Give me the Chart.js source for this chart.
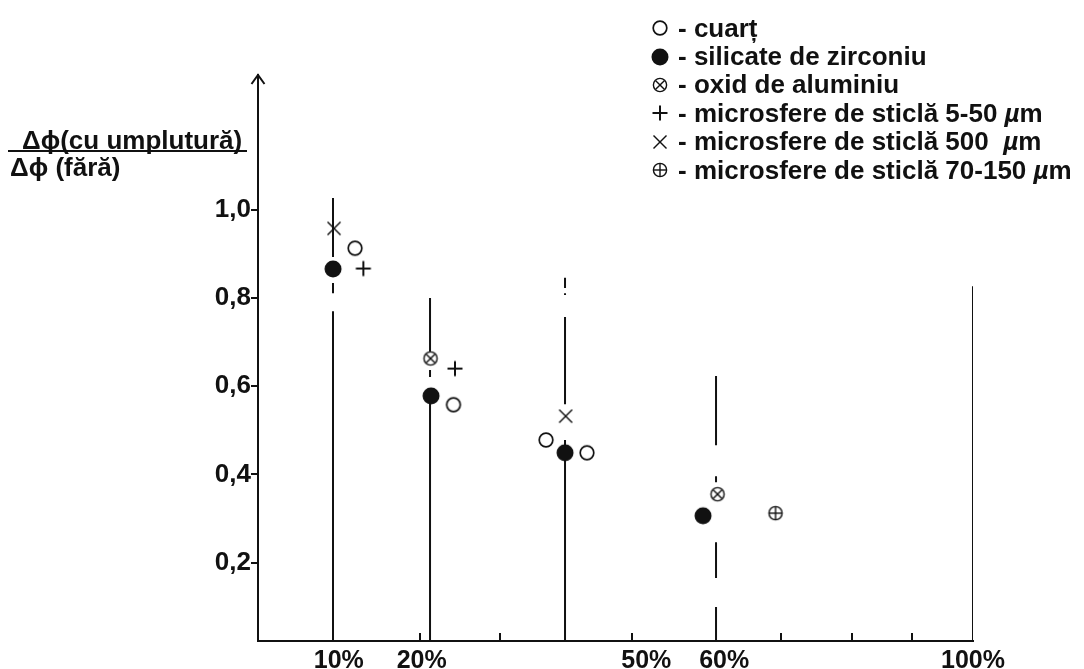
<!DOCTYPE html>
<html>
<head>
<meta charset="utf-8">
<script src="https://cdn.jsdelivr.net/npm/chart.js@4.4.1/dist/chart.umd.min.js"></script>
<style>
  body { margin: 0; background: #fff; }
  #wrap { position: relative; width: 1084px; height: 669px; overflow: hidden;
          font-family: "Liberation Sans", Arial, sans-serif; font-weight: bold; color: #111; }
  #wrap canvas#chart { position: absolute; left: 0; top: 0; }
  #legend { position: absolute; left: 650px; top: 14px; font-size: 26px; }
  .row { display: flex; align-items: center; height: 28.4px; white-space: nowrap; }
  .row img { width: 20px; height: 20px; margin-right: 8px; }
  .ytxt { position: absolute; font-size: 26px; line-height: 30px; white-space: nowrap; }
  #ybar { position: absolute; left: 8px; top: 150px; width: 239px; height: 2px; background: #111; }
</style>
</head>
<body>
<div id="wrap">
  <canvas id="chart" width="1084" height="669"></canvas>
  <div class="ytxt" style="left:22px; top:125px;">Δϕ(cu umplutură)</div>
  <div id="ybar"></div>
  <div class="ytxt" style="left:10px; top:152px;">Δϕ (fără)</div>
  <div id="legend"></div>
</div>
<script>
// series names, in legend order
const seriesNames = [
  "cuarț",
  "silicate de zirconiu",
  "oxid de aluminiu",
  "microsfere de sticlă 5-50 µm",
  "microsfere de sticlă 500  µm",
  "microsfere de sticlă 70-150 µm"
];
const seriesMarks = ["open", "filled", "otimes", "plus", "times", "oplus"];

// points (x = position along the drawn axis, 0..100)
const cuartX = [13.57, 27.34, 40.28, 46.01];
const cuartY = [0.913, 0.558, 0.478, 0.449];
const zirconX = [10.49, 24.20, 42.94, 62.24];
const zirconY = [0.866, 0.578, 0.449, 0.306];
const aluminaX = [24.13, 64.27];
const aluminaY = [0.663, 0.355];
const micro550X = [14.73, 27.55];
const micro550Y = [0.867, 0.640];
const micro500X = [10.63, 43.03];
const micro500Y = [0.958, 0.532];
const micro70X = [72.38];
const micro70Y = [0.312];

// vertical guide lines, drawn in pieces (y from / y to)
const yAxisMin = 0.022;
const yAxisMax = 1.306;
const guideX = [10.49, 24.06, 42.94, 64.06, 100];
const guidePieces = [
  [[1.027, 0.893], [0.834, 0.811], [0.770, yAxisMin]],
  [[0.800, 0.678], [0.637, 0.621], [0.578, yAxisMin]],
  [[0.846, 0.823], [0.811, 0.807], [0.757, 0.559], [0.478, yAxisMin]],
  [[0.623, 0.466], [0.396, 0.382], [0.246, 0.165], [0.099, yAxisMin]],
  [[0.827, yAxisMin]]
];

// axis ticks
const yTicks = [0.2, 0.4, 0.6, 0.8, 1.0];
const xLabelPos = [11.3, 22.9, 54.3, 65.2, 100];
const xLabels = ["10%", "20%", "50%", "60%", "100%"];
const xMinorTicks = [22.66, 33.85, 52.31, 73.15, 83.08, 91.47];

const ink = "#111";

function makeMarker(kind) {
  const c = document.createElement("canvas");
  c.width = 20; c.height = 20;
  const g = c.getContext("2d");
  const m = 10;
  g.strokeStyle = ink; g.fillStyle = ink;
  const ring = (r, lw) => {
    g.beginPath(); g.arc(m, m, r, 0, Math.PI * 2);
    g.fillStyle = "#fff"; g.fill();
    g.lineWidth = lw; g.stroke();
  };
  const seg = (x1, y1, x2, y2, lw) => {
    g.beginPath(); g.moveTo(m + x1, m + y1); g.lineTo(m + x2, m + y2);
    g.lineWidth = lw; g.stroke();
  };
  if (kind === "open") ring(6.8, 1.7);
  if (kind === "filled") { g.beginPath(); g.arc(m, m, 8.5, 0, Math.PI * 2); g.fill(); }
  if (kind === "otimes") { ring(6.6, 1.4); seg(-4.3, -4.3, 4.3, 4.3, 1.4); seg(-4.3, 4.3, 4.3, -4.3, 1.4); }
  if (kind === "plus") { seg(-7.5, 0, 7.5, 0, 2); seg(0, -7.5, 0, 7.5, 2); }
  if (kind === "times") { seg(-6.5, -6.5, 6.5, 6.5, 1.4); seg(-6.5, 6.5, 6.5, -6.5, 1.4); }
  if (kind === "oplus") { ring(6.6, 1.4); seg(-6.6, 0, 6.6, 0, 1.4); seg(0, -6.6, 0, 6.6, 1.4); }
  return c;
}

const markers = seriesMarks.map(makeMarker);

// legend as html
const legend = document.getElementById("legend");
seriesNames.forEach((name, i) => {
  const row = document.createElement("div");
  row.className = "row";
  const img = document.createElement("img");
  img.src = markers[i].toDataURL();
  row.appendChild(img);
  const span = document.createElement("span");
  span.innerHTML = "- " + name.replace("µ", "<i>µ</i>").replace("  ", "&nbsp; ");
  row.appendChild(span);
  legend.appendChild(row);
});

const zip = (xs, ys) => xs.map((x, i) => ({ x, y: ys[i] }));

const pointSets = [
  [cuartX, cuartY], [zirconX, zirconY], [aluminaX, aluminaY],
  [micro550X, micro550Y], [micro500X, micro500Y], [micro70X, micro70Y]
].map((s, i) => ({
  type: "scatter",
  label: seriesNames[i],
  data: zip(s[0], s[1]),
  pointStyle: markers[i],
  pointRadius: 10,
  showLine: false,
  order: 1
}));

const guideSets = guideX.map((x, i) => {
  const data = [];
  guidePieces[i].forEach(p => {
    data.push({ x, y: p[0] }, { x, y: p[1] }, { x, y: null });
  });
  return {
    type: "line",
    data,
    borderColor: ink,
    borderWidth: 2,
    pointRadius: 0,
    spanGaps: false,
    order: 2
  };
});

const axisExtras = {
  id: "axisExtras",
  afterDraw(chart) {
    const { ctx, chartArea: a, scales: { x } } = chart;
    ctx.save();
    ctx.strokeStyle = ink;
    ctx.lineWidth = 2;
    // arrow head on the y axis
    ctx.beginPath();
    ctx.moveTo(a.left - 6.5, a.top + 9);
    ctx.lineTo(a.left, a.top);
    ctx.lineTo(a.left + 6.5, a.top + 9);
    ctx.stroke();
    // small ticks pointing up from the x axis
    xMinorTicks.forEach(v => {
      const px = Math.round(x.getPixelForValue(v));
      ctx.beginPath();
      ctx.moveTo(px, a.bottom);
      ctx.lineTo(px, a.bottom - 8);
      ctx.stroke();
    });
    ctx.restore();
  }
};

const tickFont = { family: "'Liberation Sans', Arial, sans-serif", weight: "bold", size: 26 };

new Chart(document.getElementById("chart"), {
  type: "scatter",
  data: { datasets: [...guideSets, ...pointSets] },
  options: {
    responsive: false,
    animation: false,
    layout: { padding: { top: 75, right: 111, left: 0, bottom: 0 } },
    plugins: { legend: { display: false }, tooltip: { enabled: false } },
    scales: {
      x: {
        type: "linear",
        min: 0,
        max: 100,
        afterFit: s => { s.height = 28; },
        afterBuildTicks: s => { s.ticks = xLabelPos.map(v => ({ value: v })); },
        ticks: {
          callback: (v, i) => xLabels[i],
          autoSkip: false,
          maxRotation: 0,
          padding: 5,
          color: ink,
          font: { ...tickFont, size: 25 }
        },
        grid: { display: false, drawTicks: false, tickLength: 0 },
        border: { display: true, color: ink, width: 2 }
      },
      y: {
        type: "linear",
        min: yAxisMin,
        max: yAxisMax,
        afterFit: s => { s.width = 258; },
        afterBuildTicks: s => { s.ticks = yTicks.map(v => ({ value: v })); },
        ticks: {
          callback: v => v.toFixed(1).replace(".", ","),
          padding: 0,
          color: ink,
          font: tickFont
        },
        grid: { drawOnChartArea: false, drawTicks: true, tickLength: 7, color: ink, lineWidth: 2 },
        border: { display: true, color: ink, width: 2 }
      }
    }
  },
  plugins: [axisExtras]
});
</script>
</body>
</html>
